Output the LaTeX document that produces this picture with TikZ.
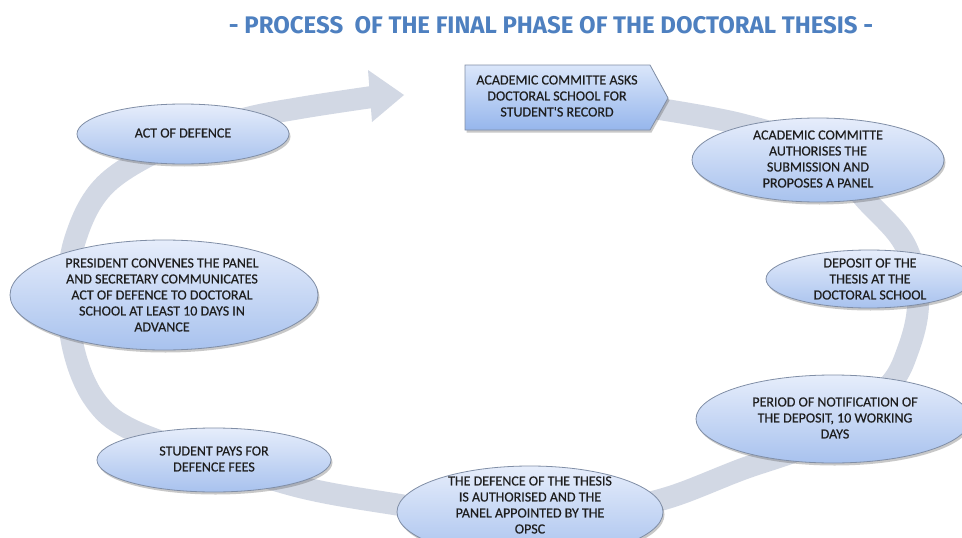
\documentclass[tikz,border=0pt]{standalone}
\usepackage{fontspec}
\setmainfont{Carlito}
\newfontfamily\lblfont[FakeBold=0.35]{Carlito}
\newfontfamily\titlefont{Fira Sans}
\usetikzlibrary{shapes.geometric,shadows}
\definecolor{bandc}{RGB}{210,216,228}
\definecolor{ebord}{RGB}{128,142,166}
\definecolor{etop}{RGB}{230,237,251}
\definecolor{ebot}{RGB}{168,194,238}
\definecolor{ptop}{RGB}{218,230,250}
\definecolor{pbot}{RGB}{150,182,236}
\definecolor{ttl}{RGB}{78,128,192}
\definecolor{txt}{RGB}{30,30,30}
\begin{document}
\begin{tikzpicture}[x=1pt,y=-1pt,
  bub/.style={ellipse, draw=ebord, line width=0.8pt, top color=etop, bottom color=ebot, inner sep=0pt,
    drop shadow={shadow xshift=1.5pt, shadow yshift=-2.5pt, opacity=0.3, fill=black!70}},
  lbl/.style={align=center, font=\lblfont\fontsize{14}{16}\selectfont, text=txt, inner sep=0pt},
  bandline/.style={draw=bandc, line width=22pt}
]
\fill[white] (0,0) rectangle (962,538);
\clip (0,0) rectangle (962,538);

% title
\node[font=\titlefont\bfseries\fontsize{24}{28}\selectfont, text=ttl] (title) at (551,25)
  {- PROCESS\ \ OF THE FINAL PHASE OF THE DOCTORAL THESIS -};

% circular band
\draw[bandline] plot[smooth, tension=0.6] coordinates {(640,106) (740,124) (820,152) (866,200) (905,245) (918,300) (908,350) (885,390) (820,440) (740,470) (667,498) (600,512) (530,516) (450,512) (400,505) (300,487) (200,455) (128,428) (95,400) (75,355) (68,300) (75,240) (105,185) (170,145) (240,120) (300,108) (372,97)};
\coordinate (tipa) at (368,70);
\coordinate (tipb) at (404,95);
\coordinate (tipc) at (372,122);
\fill[bandc] (tipa) -- (tipb) -- (tipc) -- cycle;

% pentagon
\coordinate (p1) at (465,65);
\coordinate (p2) at (650,65);
\coordinate (p3) at (668,98);
\coordinate (p4) at (650,130);
\coordinate (p5) at (465,130);
\path[draw=ebord, line width=0.8pt, top color=ptop, bottom color=pbot,
  drop shadow={shadow xshift=1.5pt, shadow yshift=-2.5pt, opacity=0.3, fill=black!70}]
  (p1) -- (p2) -- (p3) -- (p4) -- (p5) -- cycle;
\node[lbl] (t1) at (557,96) {ACADEMIC COMMITTE ASKS\\DOCTORAL SCHOOL FOR\\STUDENT'S RECORD};

% ellipses
\node[bub, minimum width=252, minimum height=84] (e2) at (818,160) {};
\node[lbl] (t2) at (818,159) {ACADEMIC COMMITTE\\AUTHORISES THE\\SUBMISSION AND\\PROPOSES A PANEL};

\node[bub, minimum width=206, minimum height=58] (e3) at (869,279) {};
\node[lbl] (t3) at (870,279) {DEPOSIT OF THE\\THESIS AT THE\\DOCTORAL SCHOOL};

\node[bub, minimum width=274, minimum height=88] (e4) at (833,419) {};
\node[lbl] (t4) at (835,418) {PERIOD OF NOTIFICATION OF\\THE DEPOSIT, 10 WORKING\\DAYS};

\node[bub, minimum width=266, minimum height=92] (e5) at (530,512) {};
\node[lbl] (t5) at (530,505) {THE DEFENCE OF THE THESIS\\IS AUTHORISED AND THE\\PANEL APPOINTED BY THE\\OPSC};

\node[bub, minimum width=234, minimum height=64] (e6) at (214,460) {};
\node[lbl] (t6) at (214,459) {STUDENT PAYS FOR\\DEFENCE FEES};

\node[bub, minimum width=308, minimum height=110] (e7) at (164,295) {};
\node[lbl] (t7) at (162,295) {PRESIDENT CONVENES THE PANEL\\AND SECRETARY COMMUNICATES\\ACT OF DEFENCE TO DOCTORAL\\SCHOOL AT LEAST 10 DAYS IN\\ADVANCE};

\node[bub, minimum width=212, minimum height=60] (e8) at (183,134) {};
\node[lbl] (t8) at (183,133) {ACT OF DEFENCE};
\end{tikzpicture}
\end{document}
